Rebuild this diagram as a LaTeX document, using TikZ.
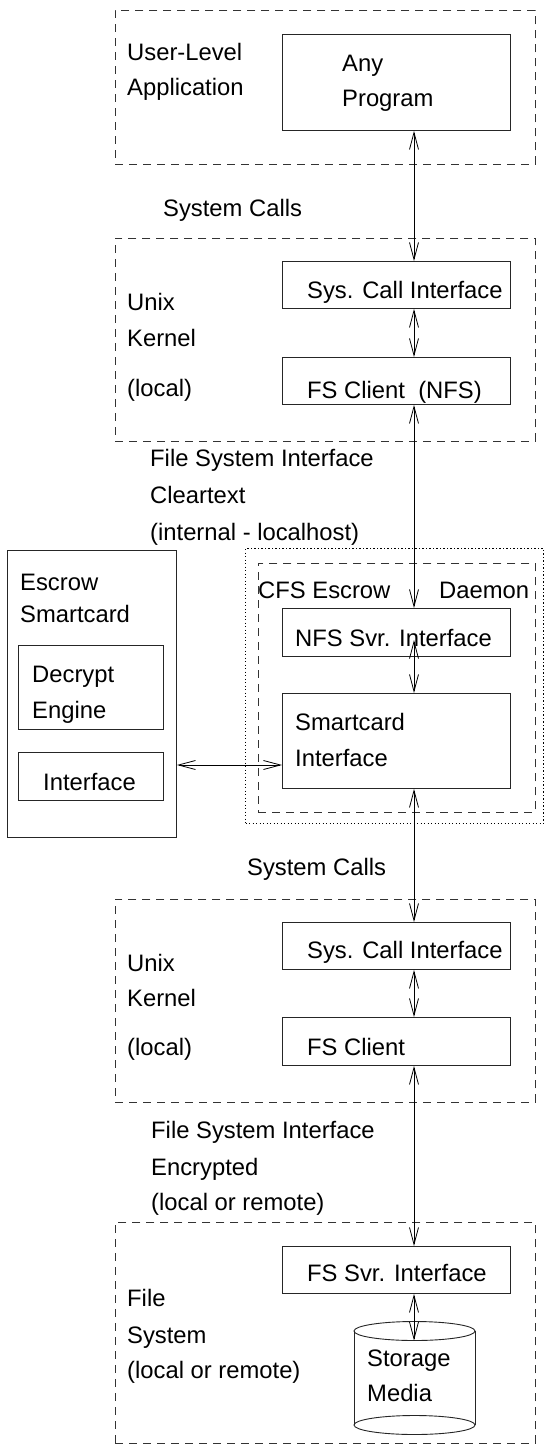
\documentclass[tikz,border=0pt]{standalone}
\usepackage{fontspec}
\setmainfont{Liberation Sans}
\usetikzlibrary{arrows.meta}
\tikzset{
  dashedbox/.style={draw=black!80, dash pattern=on 8pt off 6pt, line width=0.9pt, inner sep=0, anchor=north west},
  dottedbox/.style={draw=black, dash pattern=on 1.3pt off 2.2pt, line width=1.3pt, inner sep=0, anchor=north west},
  solidbox/.style={draw=black!85, line width=0.9pt, inner sep=0, anchor=north west},
  txt/.style={anchor=base west, inner sep=0, font=\fontsize{23.8}{28}\selectfont},
  dbl/.style={{Straight Barb[length=17pt,width=9pt]}-{Straight Barb[length=17pt,width=9pt]}, line width=0.8pt},
}
\begin{document}
\begin{tikzpicture}[x=1pt,y=-1pt]
\useasboundingbox[fill=white] (0,0) rectangle (545,1450);
\coordinate (ax) at (414,0);
% ---- User level
\node[dashedbox, minimum width=420pt, minimum height=154pt] (userbox) at (115,10) {};
\node[solidbox, minimum width=228pt, minimum height=96pt] (anyprog) at (282,34) {};
\node[txt] (t1) at (127,60.5) {User-Level};
\node[txt] (t2) at (127,95.5) {Application};
\node[txt] (t3) at (342,71.5) {Any};
\node[txt] (t4) at (342,106.5) {Program};
\node[txt] (t5) at (163,216.5) {System Calls};
% ---- Kernel 1
\node[dashedbox, minimum width=420pt, minimum height=203pt] (kern1) at (115,238) {};
\node[solidbox, minimum width=228pt, minimum height=47pt] (sc1) at (282,261) {};
\node[solidbox, minimum width=228pt, minimum height=47pt] (fsc1) at (282,357) {};
\node[txt] (t6) at (307,298.5) {Sys. Call Interface};
\node[txt] (t7) at (307,398.5) {FS Client\ \ (NFS)};
\node[txt] (t8) at (127,310.5) {Unix};
\node[txt] (t9) at (127,346.5) {Kernel};
\node[txt] (t10) at (127,396.5) {(local)};
\node[txt] (t11) at (150,466.5) {File System Interface};
\node[txt] (t12) at (150,503.5) {Cleartext};
\node[txt] (t13) at (150,540.5) {(internal - localhost)};
% ---- Escrow smartcard
\node[solidbox, minimum width=169pt, minimum height=287pt] (escrow) at (7,550) {};
\node[txt] (t14) at (20,590.5) {Escrow};
\node[txt] (t15) at (20,622.5) {Smartcard};
\node[solidbox, minimum width=145pt, minimum height=84pt] (decrypt) at (18,645) {};
\node[txt] (t16) at (32,682.5) {Decrypt};
\node[txt] (t17) at (32,718.5) {Engine};
\node[solidbox, minimum width=145pt, minimum height=48pt] (einterf) at (18,752) {};
\node[txt] (t18) at (43,790.5) {Interface};
% ---- CFS daemon
\node[dottedbox, minimum width=298pt, minimum height=275pt] (dotbox) at (245,548) {};
\node[dashedbox, minimum width=277pt, minimum height=249pt] (cfsbox) at (258,563) {};
\node[txt] (t19) at (258,598.5) {CFS Escrow};
\node[txt] (t20) at (439,598.5) {Daemon};
\node[solidbox, minimum width=228pt, minimum height=48pt] (nfssvr) at (282,608) {};
\node[txt] (t21) at (295,646.5) {NFS Svr. Interface};
\node[solidbox, minimum width=228pt, minimum height=95pt] (smartif) at (282,693) {};
\node[txt] (t22) at (295,730.5) {Smartcard};
\node[txt] (t23) at (295,766.5) {Interface};
\coordinate (nfstip) at (414,640);
% ---- Kernel 2
\node[txt] (t24) at (247,875.5) {System Calls};
\node[dashedbox, minimum width=420pt, minimum height=203pt] (kern2) at (115,899) {};
\node[solidbox, minimum width=228pt, minimum height=47pt] (sc2) at (282,922) {};
\node[solidbox, minimum width=228pt, minimum height=48pt] (fsc2) at (282,1017) {};
\node[txt] (t25) at (307,958.5) {Sys. Call Interface};
\node[txt] (t26) at (307,1055.5) {FS Client};
\node[txt] (t27) at (127,971.5) {Unix};
\node[txt] (t28) at (127,1006.5) {Kernel};
\node[txt] (t29) at (127,1055.5) {(local)};
\node[txt] (t30) at (151,1138.5) {File System Interface};
\node[txt] (t31) at (151,1175.5) {Encrypted};
\node[txt] (t32) at (151,1210.5) {(local or remote)};
% ---- File system
\node[dashedbox, minimum width=420pt, minimum height=221pt] (fsbox) at (115,1222) {};
\node[solidbox, minimum width=228pt, minimum height=47pt] (fssvr) at (282,1246) {};
\node[txt] (t33) at (307,1281.5) {FS Svr. Interface};
\node[txt] (t34) at (127,1306.5) {File};
\node[txt] (t35) at (127,1343.5) {System};
\node[txt] (t36) at (127,1378.5) {(local or remote)};
% storage cylinder
\draw[black!85, line width=0.9pt] (414.5,1331) ellipse [x radius=60.5, y radius=9.5];
\draw[black!85, line width=0.9pt] (414.5,1425) ellipse [x radius=60.5, y radius=9.5];
\draw[black!85, line width=0.9pt] (354,1331) -- (354,1425) (475,1331) -- (475,1425);
\coordinate (stortop) at (414,1340.5);
\node[txt] (t37) at (367,1366.5) {Storage};
\node[txt] (t38) at (367,1401.5) {Media};
% ---- connectors
\draw[dbl] (anyprog.south -| ax) -- (sc1.north -| ax);
\draw[dbl] (sc1.south -| ax) -- (fsc1.north -| ax);
\draw[dbl] (fsc1.south -| ax) -- (nfssvr.north -| ax);
\draw[dbl] (nfstip) -- (smartif.north -| ax);
\draw[dbl] (smartif.south -| ax) -- (sc2.north -| ax);
\draw[dbl] (sc2.south -| ax) -- (fsc2.north -| ax);
\draw[dbl] (fsc2.south -| ax) -- (fssvr.north -| ax);
\draw[dbl] (fssvr.south -| ax) -- (stortop);
\draw[dbl] (escrow.east |- 0,765) -- (smartif.west |- 0,765);
\end{tikzpicture}
\end{document}
